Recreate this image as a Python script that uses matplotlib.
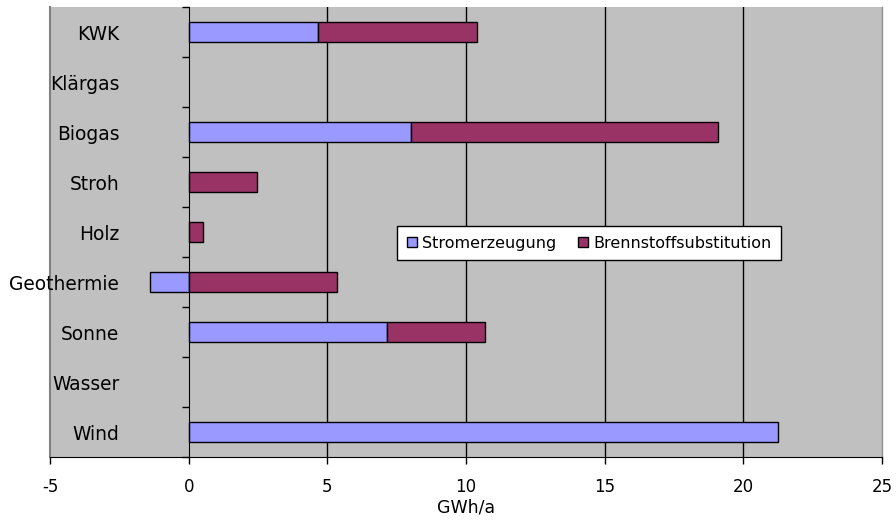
import numpy as np
import matplotlib.pyplot as plt
from matplotlib.patches import Patch

# categories from bottom to top
categories = ['Wind', 'Wasser', 'Sonne', 'Geothermie', 'Holz', 'Stroh', 'Biogas', 'Klärgas', 'KWK']
strom = [21.25, 0, 7.15, -1.4, 0, 0, 8.0, 0, 4.65]
brennstoff = [0, 0, 3.55, 5.35, 0.5, 2.45, 11.1, 0, 5.75]
xticks = [-5, 0, 5, 10, 15, 20, 25]

blue = '#9999FF'
red = '#993366'

fig = plt.figure(figsize=(8.96, 5.22), dpi=100)
ax = fig.add_axes([50/896, 1-457/522, 832/896, 450/522])
ax.set_facecolor('#C0C0C0')

y = np.arange(len(categories))
strom = np.array(strom)
brennstoff = np.array(brennstoff)

# gridlines behind bars
for xv in xticks[2:-1]:
    ax.axvline(xv, color='black', lw=1, zorder=1)

# no outline for empty segments
ax.barh(y, strom, height=0.4, color=blue, edgecolor='black',
        linewidth=np.where(strom != 0, 1, 0), zorder=3)
ax.barh(y, brennstoff, height=0.4, left=np.maximum(strom, 0), color=red,
        edgecolor='black', linewidth=np.where(brennstoff != 0, 1, 0), zorder=3)

ax.set_xlim(-5, 25)
ax.set_ylim(-0.5, len(categories) - 0.5)

# category axis sits at x = 0
ax.spines['left'].set_position(('data', 0))
ax.spines['left'].set_zorder(4)
ax.spines['top'].set_visible(False)
ax.spines['right'].set_visible(False)
ax.axvline(-5, color='#808080', lw=1.5, clip_on=False, zorder=0.5)
ax.axvline(25, color='#909090', lw=1, clip_on=False, zorder=0.5)

ax.set_yticks(y)
ax.set_yticklabels(categories, fontsize=13.4)
ax.tick_params(axis='y', which='major', length=0, pad=50)
ax.set_yticks(np.arange(-0.5, len(categories)), minor=True)
ax.tick_params(axis='y', which='minor', length=5, direction='out', width=1)

ax.set_xticks(xticks)
ax.set_xticklabels([str(v) for v in xticks], fontsize=12)
ax.tick_params(axis='x', length=5, width=1, pad=10)
ax.set_xlabel('GWh/a', fontsize=12.5, labelpad=2)

handles = [Patch(facecolor=blue, edgecolor='black', label='Stromerzeugung'),
           Patch(facecolor=red, edgecolor='black', label='Brennstoffsubstitution')]
leg = ax.legend(handles=handles, loc='upper left', bbox_to_anchor=(0.417, 0.513),
                ncol=2, fontsize=11.5, frameon=True, fancybox=False, framealpha=1,
                edgecolor='black', borderaxespad=0, handlelength=0.65, handleheight=0.65,
                handletextpad=0.35, columnspacing=1.3, borderpad=0.6)
leg.get_frame().set_linewidth(1)
leg.set_zorder(5)

fig.savefig('out.png', dpi=100)
